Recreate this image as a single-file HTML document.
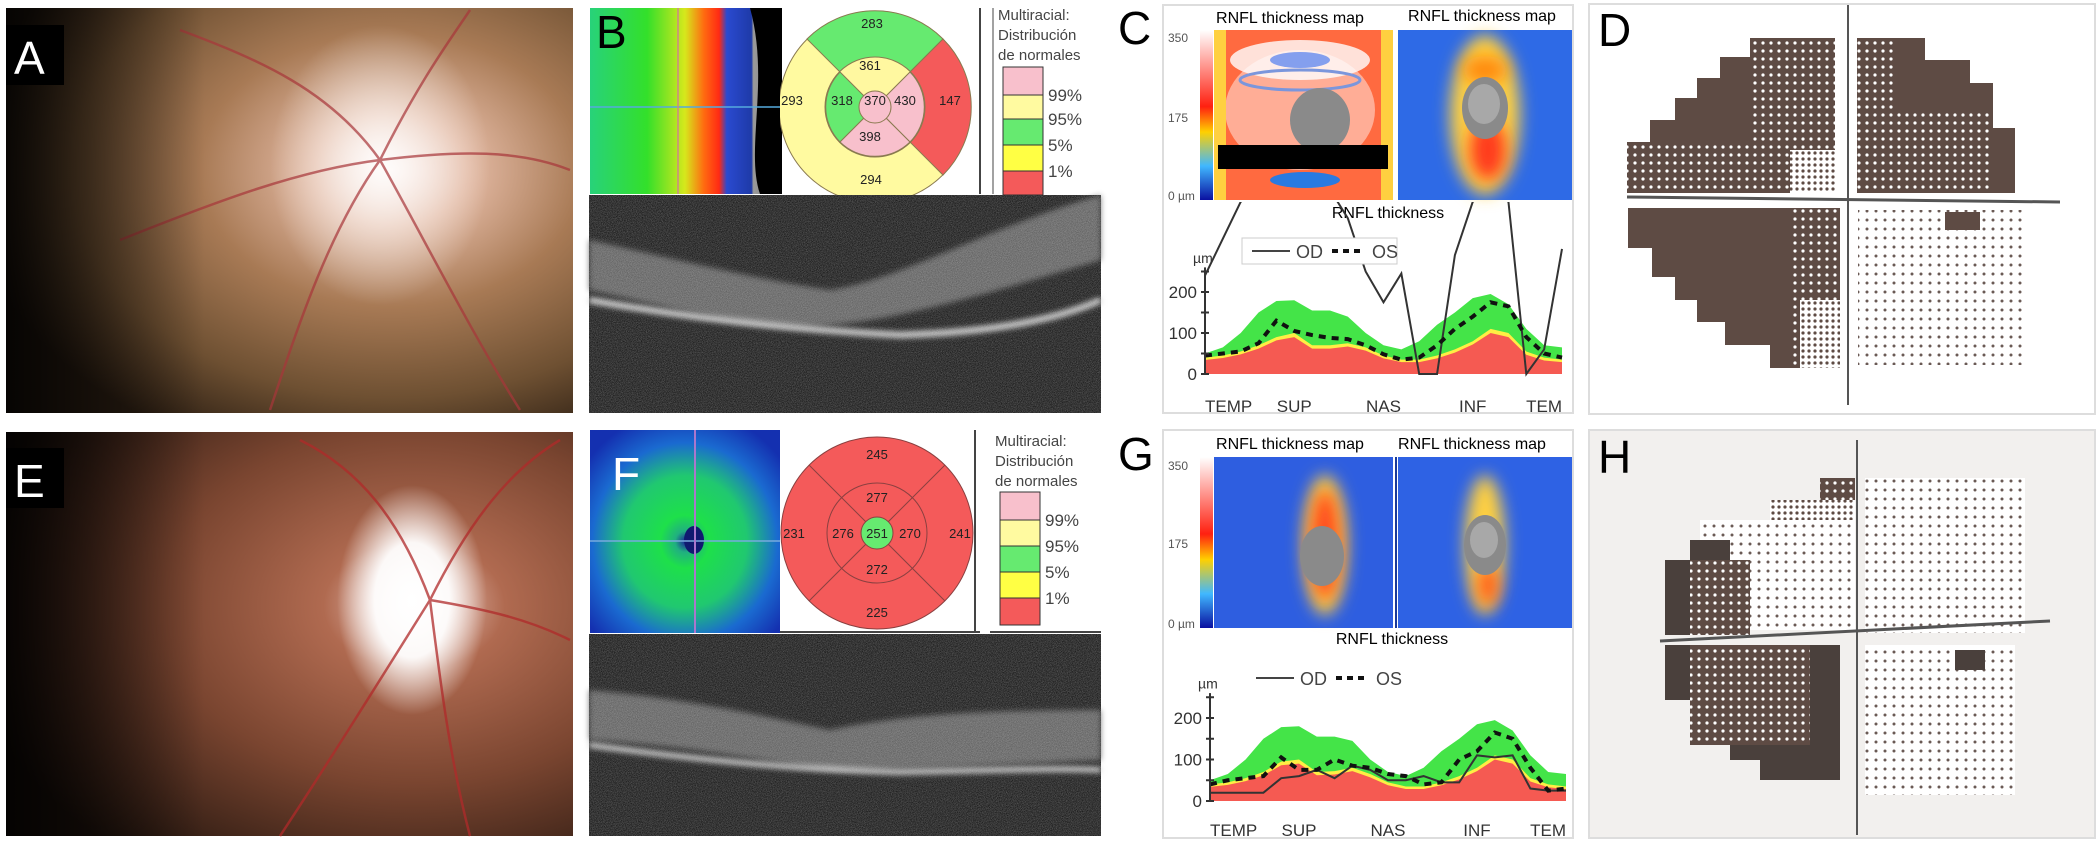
<!DOCTYPE html>
<html><head><meta charset="utf-8"><style>
html,body{margin:0;padding:0;background:#fff}
svg{display:block;font-family:"Liberation Sans",sans-serif}
</style></head><body>
<svg id="fig" width="2100" height="844" viewBox="0 0 2100 844" xmlns="http://www.w3.org/2000/svg">
<defs>
<filter id="noise" x="0" y="0" width="100%" height="100%"><feTurbulence type="fractalNoise" baseFrequency="1.2" numOctaves="2" seed="3"/><feColorMatrix values="0 0 0 0 1  0 0 0 0 1  0 0 0 0 1  0 0 0 0.45 -0.05"/></filter>
<filter id="blur3" x="-20%" y="-50%" width="140%" height="200%"><feGaussianBlur stdDeviation="3"/></filter>
<filter id="blur8" x="-100%" y="-100%" width="300%" height="300%"><feGaussianBlur stdDeviation="8"/></filter>
<filter id="blur20" x="-100%" y="-100%" width="300%" height="300%"><feGaussianBlur stdDeviation="20"/></filter>
<radialGradient id="fundA" cx="0.68" cy="0.4" r="0.75"><stop offset="0" stop-color="#f8e6e0"/><stop offset="0.18" stop-color="#e2b8a2"/><stop offset="0.45" stop-color="#a87a55"/><stop offset="0.75" stop-color="#6e5032"/><stop offset="1" stop-color="#2a1d12"/></radialGradient>
<radialGradient id="fundE" cx="0.72" cy="0.43" r="0.8"><stop offset="0" stop-color="#f0d0c8"/><stop offset="0.2" stop-color="#b06a50"/><stop offset="0.55" stop-color="#7a4530"/><stop offset="1" stop-color="#1d120c"/></radialGradient>
<linearGradient id="darkL" x1="0" x2="1"><stop offset="0" stop-color="#000" stop-opacity="0.85"/><stop offset="0.15" stop-color="#000" stop-opacity="0.5"/><stop offset="0.35" stop-color="#000" stop-opacity="0"/></linearGradient>
<radialGradient id="discA"><stop offset="0" stop-color="#fff" stop-opacity="0.9"/><stop offset="1" stop-color="#fff" stop-opacity="0"/></radialGradient>
<radialGradient id="discE"><stop offset="0" stop-color="#fff"/><stop offset="0.5" stop-color="#fff" stop-opacity="0.95"/><stop offset="1" stop-color="#fff" stop-opacity="0"/></radialGradient>
<linearGradient id="heatB" x1="0" x2="1"><stop offset="0" stop-color="#28d27a"/><stop offset="0.3" stop-color="#33e02a"/><stop offset="0.5" stop-color="#d6e81c"/><stop offset="0.6" stop-color="#ff6a10"/><stop offset="0.68" stop-color="#ff2a14"/><stop offset="0.72" stop-color="#2a4ad0"/><stop offset="0.85" stop-color="#1e3aa8"/><stop offset="0.86" stop-color="#9a9a9a"/><stop offset="1" stop-color="#7c7c7c"/></linearGradient>
<radialGradient id="heatF" cx="0.5" cy="0.55" r="0.65"><stop offset="0" stop-color="#1a2a9a"/><stop offset="0.08" stop-color="#20b080"/><stop offset="0.2" stop-color="#1ee04a"/><stop offset="0.5" stop-color="#20c870"/><stop offset="0.75" stop-color="#1a6ad0"/><stop offset="1" stop-color="#1430b0"/></radialGradient>
<linearGradient id="cbar" x1="0" y1="0" x2="0" y2="1"><stop offset="0" stop-color="#fff"/><stop offset="0.45" stop-color="#ff2010"/><stop offset="0.6" stop-color="#ffd000"/><stop offset="0.8" stop-color="#40b8ff"/><stop offset="1" stop-color="#0a10a0"/></linearGradient>
<pattern id="dotsDark" width="8" height="8" patternUnits="userSpaceOnUse"><rect width="8" height="8" fill="#5e4b44"/><circle cx="3" cy="3" r="1.6" fill="#fff"/></pattern>
<pattern id="dotsLight" width="6" height="6" patternUnits="userSpaceOnUse"><rect width="6" height="6" fill="#fff"/><circle cx="3" cy="3" r="1.6" fill="#5e4b44"/></pattern>
<pattern id="dotsSparse" width="9" height="9" patternUnits="userSpaceOnUse"><rect width="9" height="9" fill="#fff"/><circle cx="4" cy="4" r="1.5" fill="#6a5a55"/></pattern>
<clipPath id="clipC"><rect x="1165" y="202" width="410" height="210"/></clipPath>
<clipPath id="clipCirB"><rect x="780" y="0" width="200" height="195"/></clipPath>
</defs>

<g>
<rect x="6" y="8" width="567" height="405" fill="url(#fundA)"/>
<ellipse cx="380" cy="165" rx="110" ry="140" fill="url(#discA)"/>
<g stroke="#a8363a" stroke-width="2.5" fill="none" opacity="0.7">
<path d="M380 160 C330 90 260 60 180 30"/><path d="M380 160 C420 80 450 40 470 10"/><path d="M380 160 C330 230 300 320 270 410"/><path d="M380 160 C430 250 470 330 520 410"/><path d="M380 160 C460 150 520 150 570 170"/><path d="M380 160 C300 170 220 200 120 240"/>
</g>
<rect x="6" y="8" width="567" height="405" fill="url(#darkL)"/>
<rect x="6" y="25" width="58" height="60" fill="#000"/>
<text x="14" y="74" font-size="46" fill="#fff">A</text>
</g>

<g>
<rect x="6" y="432" width="567" height="404" fill="url(#fundE)"/>
<ellipse cx="412" cy="600" rx="75" ry="115" fill="url(#discE)"/>
<g stroke="#b02a2a" stroke-width="2.5" fill="none" opacity="0.75">
<path d="M430 600 C470 520 510 470 560 440"/><path d="M430 600 C400 520 360 470 300 440"/><path d="M430 600 C440 680 450 760 470 836"/><path d="M430 600 C380 680 330 760 280 836"/><path d="M430 600 C490 610 530 620 570 640"/>
</g>
<rect x="6" y="432" width="567" height="404" fill="url(#darkL)"/>
<rect x="6" y="448" width="58" height="60" fill="#000"/>
<text x="14" y="497" font-size="46" fill="#fff">E</text>
</g>

<g>
<rect x="590" y="8" width="190" height="186" fill="url(#heatB)"/>
<path d="M750 8 L782 8 L782 194 L760 194 C745 150 770 80 750 8Z" fill="#000"/>
<line x1="590" y1="107" x2="780" y2="107" stroke="#5ad" stroke-width="1.5"/>
<line x1="678" y1="8" x2="678" y2="194" stroke="#c88" stroke-width="1.5"/>
<text x="596" y="48" font-size="46" fill="#000">B</text>
<g clip-path="url(#clipCirB)" stroke="#8a7a50" stroke-width="1">
<circle cx="875" cy="107" r="96" fill="#fffaa0"/>
<path d="M875 107 L807 39 A96 96 0 0 1 943 39Z" fill="#66ea70"/>
<path d="M875 107 L943 39 A96 96 0 0 1 943 175Z" fill="#f45a5a"/>
<circle cx="875" cy="107" r="50" fill="#fff8a0"/>
<path d="M875 107 L840 72 A50 50 0 0 0 840 142Z" fill="#66ea70"/>
<path d="M875 107 L910 72 A50 50 0 0 1 910 142Z" fill="#f8c0cc"/>
<path d="M875 107 L840 142 A50 50 0 0 0 910 142Z" fill="#f8c0cc"/>
<circle cx="875" cy="107" r="16" fill="#f8c0cc"/>
</g>
<g font-size="13" fill="#222" text-anchor="middle">
<text x="872" y="28">283</text><text x="870" y="70">361</text><text x="792" y="105">293</text><text x="842" y="105">318</text><text x="875" y="105">370</text><text x="905" y="105">430</text><text x="950" y="105">147</text><text x="870" y="141">398</text><text x="871" y="184">294</text>
</g>
<line x1="980" y1="8" x2="980" y2="194" stroke="#444" stroke-width="2"/>
<line x1="993" y1="8" x2="993" y2="194" stroke="#444" stroke-width="1"/>
<g>
<text x="998" y="20" font-size="15" fill="#444">Multiracial:</text>
<text x="998" y="40" font-size="15" fill="#444">Distribución</text>
<text x="998" y="60" font-size="15" fill="#444">de normales</text>
<rect x="1003" y="67" width="40" height="28" fill="#f8c0cc" stroke="#333"/>
<rect x="1003" y="95" width="40" height="24" fill="#fffaa0" stroke="#333"/>
<rect x="1003" y="119" width="40" height="26" fill="#66ea70" stroke="#333"/>
<rect x="1003" y="145" width="40" height="26" fill="#ffff44" stroke="#333"/>
<rect x="1003" y="171" width="40" height="24" fill="#f45a5a" stroke="#333"/>
<g font-size="17" fill="#444"><text x="1048" y="101">99%</text><text x="1048" y="125">95%</text><text x="1048" y="151">5%</text><text x="1048" y="177">1%</text></g>
</g>
<g>
<rect x="589" y="195" width="512" height="218" fill="#0c0c0c"/>
<path d="M589 240 C680 260 760 280 830 290 C900 280 980 230 1101 195 L1101 260 C1000 290 900 320 830 325 C760 330 680 310 589 290Z" fill="#6a6a6a" opacity="0.8" filter="url(#blur3)"/>
<path d="M589 300 C700 320 800 330 900 335 C1000 332 1060 318 1101 300" stroke="#d0d0d0" stroke-width="6" fill="none" filter="url(#blur3)"/>
<rect x="589" y="195" width="512" height="218" filter="url(#noise)"/>
</g>
</g>

<g>
<rect x="590" y="430" width="190" height="203" fill="url(#heatF)"/>
<ellipse cx="694" cy="540" rx="10" ry="14" fill="#101a70"/>
<line x1="590" y1="541" x2="780" y2="541" stroke="#7ad" stroke-width="1.5"/>
<line x1="695" y1="430" x2="695" y2="633" stroke="#a7c" stroke-width="2"/>
<text x="612" y="490" font-size="46" fill="#fff">F</text>
<g stroke="#8a4040" stroke-width="1">
<circle cx="877" cy="533" r="96" fill="#f45a5a"/>
<line x1="809" y1="465" x2="945" y2="601"/><line x1="945" y1="465" x2="809" y2="601"/>
<circle cx="877" cy="533" r="50" fill="none"/>
<circle cx="877" cy="533" r="16" fill="#66ea70"/>
</g>
<g font-size="13" fill="#222" text-anchor="middle">
<text x="877" y="459">245</text><text x="877" y="502">277</text><text x="794" y="538">231</text><text x="843" y="538">276</text><text x="877" y="538">251</text><text x="910" y="538">270</text><text x="960" y="538">241</text><text x="877" y="574">272</text><text x="877" y="617">225</text>
</g>
<line x1="780" y1="632" x2="980" y2="632" stroke="#444" stroke-width="2"/>
<line x1="975" y1="430" x2="975" y2="632" stroke="#444" stroke-width="2"/>
<line x1="990" y1="632" x2="1101" y2="632" stroke="#444" stroke-width="2"/>
<g>
<text x="995" y="446" font-size="15" fill="#444">Multiracial:</text>
<text x="995" y="466" font-size="15" fill="#444">Distribución</text>
<text x="995" y="486" font-size="15" fill="#444">de normales</text>
<rect x="1000" y="492" width="40" height="28" fill="#f8c0cc" stroke="#333"/>
<rect x="1000" y="520" width="40" height="26" fill="#fffaa0" stroke="#333"/>
<rect x="1000" y="546" width="40" height="26" fill="#66ea70" stroke="#333"/>
<rect x="1000" y="572" width="40" height="26" fill="#ffff44" stroke="#333"/>
<rect x="1000" y="598" width="40" height="27" fill="#f45a5a" stroke="#333"/>
<g font-size="17" fill="#444"><text x="1045" y="526">99%</text><text x="1045" y="552">95%</text><text x="1045" y="578">5%</text><text x="1045" y="604">1%</text></g>
</g>
<g>
<rect x="589" y="634" width="512" height="202" fill="#0c0c0c"/>
<path d="M589 690 C700 700 780 720 830 730 C900 715 980 710 1101 710 L1101 760 C1000 765 900 770 830 770 C760 760 680 745 589 740Z" fill="#6a6a6a" opacity="0.8" filter="url(#blur3)"/>
<path d="M589 745 C700 760 800 770 900 772 C1000 770 1060 768 1101 770" stroke="#d0d0d0" stroke-width="5" fill="none" filter="url(#blur3)"/>
<rect x="589" y="634" width="512" height="202" filter="url(#noise)"/>
</g>
</g>

<g>
<rect x="1163" y="5" width="410" height="408" fill="#fff" stroke="#ddd" stroke-width="2"/>
<text x="1118" y="44" font-size="46" fill="#000">C</text>
<text x="1290" y="23" font-size="16" text-anchor="middle">RNFL thickness map</text>
<text x="1482" y="21" font-size="16" text-anchor="middle">RNFL thickness map</text>
<rect x="1200" y="30" width="13" height="170" fill="url(#cbar)"/>
<g font-size="12" fill="#555"><text x="1168" y="42">350</text><text x="1168" y="122">175</text><text x="1168" y="200">0 µm</text></g>
<rect x="1214" y="30" width="179" height="170" fill="#ff6a40"/>
<ellipse cx="1300" cy="60" rx="70" ry="20" fill="#fff" opacity="0.8"/>
<ellipse cx="1300" cy="60" rx="30" ry="8" fill="#2050e0"/>
<ellipse cx="1300" cy="80" rx="60" ry="10" fill="none" stroke="#1040c0" stroke-width="3"/>
<ellipse cx="1300" cy="110" rx="75" ry="60" fill="#fff" opacity="0.45"/>
<rect x="1214" y="30" width="12" height="170" fill="#ffd040"/>
<rect x="1381" y="30" width="12" height="170" fill="#ffd040"/>
<ellipse cx="1320" cy="120" rx="30" ry="32" fill="#8a8a8a"/>
<rect x="1218" y="145" width="170" height="24" fill="#000"/>
<ellipse cx="1305" cy="180" rx="35" ry="8" fill="#2a7ae0"/>
<rect x="1398" y="30" width="174" height="170" fill="#2e6ae6"/>
<ellipse cx="1485" cy="115" rx="35" ry="80" fill="#ffd040" filter="url(#blur8)"/>
<ellipse cx="1488" cy="150" rx="18" ry="30" fill="#ff3a1a" filter="url(#blur8)"/>
<ellipse cx="1485" cy="70" rx="22" ry="14" fill="#ff8a10" filter="url(#blur8)"/>
<ellipse cx="1485" cy="108" rx="23" ry="31" fill="#8a8a8a"/>
<ellipse cx="1484" cy="104" rx="16" ry="20" fill="#a8a8a8"/>
<text x="1388" y="218" font-size="16" text-anchor="middle">RNFL thickness</text>
<g id="chartC"></g>
</g>

<g>
<rect x="1163" y="430" width="410" height="408" fill="#fff" stroke="#ddd" stroke-width="2"/>
<text x="1118" y="470" font-size="46" fill="#000">G</text>
<text x="1290" y="449" font-size="16" text-anchor="middle">RNFL thickness map</text>
<text x="1472" y="449" font-size="16" text-anchor="middle">RNFL thickness map</text>
<rect x="1200" y="457" width="13" height="171" fill="url(#cbar)"/>
<g font-size="12" fill="#555"><text x="1168" y="470">350</text><text x="1168" y="548">175</text><text x="1168" y="628">0 µm</text></g>
<rect x="1214" y="457" width="179" height="171" fill="#2e5ee0"/>
<rect x="1398" y="457" width="174" height="171" fill="#2e62e4"/>
<ellipse cx="1325" cy="545" rx="22" ry="70" fill="#ffd040" filter="url(#blur8)"/>
<ellipse cx="1325" cy="545" rx="14" ry="55" fill="#ff4a1a" filter="url(#blur8)"/>
<ellipse cx="1485" cy="545" rx="20" ry="70" fill="#ffd040" filter="url(#blur8)"/>
<ellipse cx="1488" cy="585" rx="10" ry="20" fill="#ff5a1a" filter="url(#blur8)"/>
<ellipse cx="1322" cy="556" rx="22" ry="30" fill="#8a8a8a"/>
<ellipse cx="1485" cy="545" rx="21" ry="30" fill="#8a8a8a"/>
<ellipse cx="1484" cy="540" rx="14" ry="18" fill="#a8a8a8"/>
<line x1="1396" y1="457" x2="1396" y2="628" stroke="#1a3a9a" stroke-width="2"/>
<text x="1392" y="644" font-size="16" text-anchor="middle">RNFL thickness</text>
<g id="chartG"></g>
</g>

<g>
<rect x="1589" y="4" width="506" height="410" fill="#fff" stroke="#ddd" stroke-width="2"/>
<text x="1598" y="46" font-size="46" fill="#000">D</text>
<path d="M1627 193 L1627 142 L1650 142 L1650 120 L1675 120 L1675 98 L1697 98 L1697 78 L1720 78 L1720 57 L1767 57 L1767 38 L1835 38 L1835 193Z" fill="#5e4b44"/>
<rect x="1750" y="38" width="85" height="155" fill="url(#dotsDark)"/>
<rect x="1627" y="142" width="150" height="51" fill="url(#dotsDark)"/>
<rect x="1790" y="150" width="45" height="43" fill="url(#dotsLight)"/>
<path d="M1857 38 L1925 38 L1925 60 L1970 60 L1970 83 L1993 83 L1993 128 L2015 128 L2015 193 L1857 193Z" fill="#5e4b44"/>
<rect x="1857" y="38" width="40" height="155" fill="url(#dotsDark)"/>
<rect x="1880" y="110" width="110" height="83" fill="url(#dotsDark)"/>
<path d="M1628 208 L1628 248 L1652 248 L1652 277 L1675 277 L1675 300 L1697 300 L1697 322 L1725 322 L1725 345 L1770 345 L1770 368 L1840 368 L1840 208Z" fill="#5e4b44"/>
<rect x="1790" y="208" width="50" height="160" fill="url(#dotsDark)"/>
<rect x="1800" y="300" width="40" height="68" fill="url(#dotsLight)"/>
<rect x="1858" y="210" width="165" height="155" fill="url(#dotsSparse)"/>
<rect x="1945" y="212" width="35" height="18" fill="#5e4b44"/>
<line x1="1848" y1="5" x2="1848" y2="405" stroke="#555" stroke-width="2"/>
<line x1="1627" y1="197" x2="2060" y2="202" stroke="#555" stroke-width="3"/>
</g>

<g>
<rect x="1589" y="430" width="506" height="408" fill="#f2f0ee" stroke="#ddd" stroke-width="2"/>
<text x="1598" y="473" font-size="46" fill="#000">H</text>
<rect x="1820" y="478" width="35" height="25" fill="url(#dotsDark)"/>
<rect x="1770" y="500" width="85" height="45" fill="url(#dotsLight)"/>
<rect x="1700" y="520" width="155" height="110" fill="url(#dotsSparse)"/>
<path d="M1665 635 L1665 560 L1690 560 L1690 540 L1730 540 L1730 635Z" fill="#4a403c"/>
<rect x="1690" y="560" width="60" height="75" fill="url(#dotsDark)"/>
<rect x="1865" y="478" width="160" height="155" fill="url(#dotsSparse)"/>
<path d="M1665 645 L1840 645 L1840 780 L1760 780 L1760 760 L1730 760 L1730 740 L1710 740 L1710 700 L1665 700Z" fill="#4a403c"/>
<rect x="1690" y="645" width="120" height="100" fill="url(#dotsDark)"/>
<rect x="1865" y="645" width="150" height="150" fill="url(#dotsSparse)"/>
<rect x="1955" y="650" width="30" height="20" fill="#4a403c"/>
<line x1="1857" y1="440" x2="1857" y2="835" stroke="#555" stroke-width="2"/>
<line x1="1660" y1="641" x2="2050" y2="621" stroke="#555" stroke-width="3"/>
</g>
</svg>
<script>
const xLabels = ["TEMP","SUP","NAS","INF","TEM"];
const yTicks = [0,100,200];
const cGreen  = [50,65,100,150,178,180,155,155,140,100,70,60,80,120,150,185,195,170,110,70,65];
const cYellow = [40,45,55,70,90,100,70,70,75,65,45,35,35,45,60,80,110,100,55,40,35];
const cRed    = [34,39,48,62,82,90,62,62,67,57,38,29,29,38,52,72,100,90,47,33,29];
const cOS     = [45,50,55,75,130,105,95,88,85,70,48,35,40,70,110,140,175,165,90,50,40];
const cOD     = [240,330,420,450,450,450,450,450,380,250,175,245,0,0,290,420,450,420,0,60,305];
const gGreen  = [50,65,100,150,178,180,155,155,145,100,70,60,80,120,150,185,195,170,110,70,65];
const gYellow = [40,45,55,70,95,100,70,72,80,65,45,35,35,45,60,80,110,100,55,40,35];
const gRed    = [34,39,48,62,86,90,62,64,72,57,38,29,29,38,52,72,100,90,47,33,29];
const gOS     = [40,50,55,60,105,75,75,100,85,80,65,60,40,45,100,120,165,150,80,25,30];
const gOD     = [20,20,20,20,55,60,75,55,85,75,50,50,60,45,45,110,105,110,30,25,25];
const NS="http://www.w3.org/2000/svg";
function mk(parent,tag,attrs){const e=document.createElementNS(NS,tag);for(const k in attrs)e.setAttribute(k,attrs[k]);parent.appendChild(e);return e;}
function drawChart(id,cfg,green,yellow,red,os,od,clip){
  const g=document.getElementById(id);
  const n=green.length;
  const X=i=>cfg.x0+i/(n-1)*(cfg.x1-cfg.x0);
  const Y=v=>cfg.y0-v*cfg.k;
  function area(vals,color,name){
    let d="M"+X(0)+" "+Y(0);
    vals.forEach((v,i)=>d+=" L"+X(i)+" "+Y(v));
    d+=" L"+X(n-1)+" "+Y(0)+"Z";
    const p=mk(g,"path",{d:d,fill:color});
    
    
  }
  area(green,"#44e448","normal-band-95");
  area(yellow,"#ffee44","borderline-band-5");
  area(red,"#f55a52","abnormal-band-1");
  function line(vals,attrs,name){
    const d=vals.map((v,i)=>(i?"L":"M")+X(i)+" "+Y(v)).join(" ");
    const p=mk(g,"path",Object.assign({d:d,fill:"none"},attrs));
    
    
    return p;
  }
  const odp=line(od,{stroke:"#333","stroke-width":2},"od-line");
  if(clip)odp.setAttribute("clip-path","url(#"+clip+")");
  line(os,{stroke:"#111","stroke-width":4,"stroke-dasharray":"7 6"},"os-line");
  mk(g,"line",{x1:cfg.x0,y1:Y(0),x2:cfg.x0,y2:Y(260),stroke:"#333","stroke-width":2});
  for(let t=0;t<=250;t+=50){mk(g,"line",{x1:cfg.x0-4,y1:Y(t),x2:cfg.x0+4,y2:Y(t),stroke:"#333","stroke-width":2});}
  yTicks.forEach(t=>{const tx=mk(g,"text",{x:cfg.x0-8,y:Y(t)+6,"font-size":17,"text-anchor":"end",fill:"#333"});tx.textContent=t;
    
    });
  const um=mk(g,"text",{x:cfg.x0-12,y:Y(300)+12,"font-size":14,fill:"#333"});um.textContent="µm";
  xLabels.forEach((l,i)=>{const tx=mk(g,"text",{x:cfg.x0+i/(xLabels.length-1)*(cfg.x1-cfg.x0),y:cfg.ly,"font-size":17,"text-anchor":i==0?"start":(i==xLabels.length-1?"end":"middle"),fill:"#333"});tx.textContent=l;
    
    });
  const lg=mk(g,"g",{});
  
  
  if(cfg.box)mk(lg,"rect",{x:cfg.lx-10,y:cfg.lyy-13,width:155,height:26,fill:"#fff",stroke:"#ccc"});
  mk(lg,"line",{x1:cfg.lx,y1:cfg.lyy,x2:cfg.lx+38,y2:cfg.lyy,stroke:"#444","stroke-width":2});
  const t1=mk(lg,"text",{x:cfg.lx+44,y:cfg.lyy+7,"font-size":18,fill:"#444"});t1.textContent="OD";
  mk(lg,"line",{x1:cfg.lx+80,y1:cfg.lyy,x2:cfg.lx+112,y2:cfg.lyy,stroke:"#111","stroke-width":4,"stroke-dasharray":"6 5"});
  const t2=mk(lg,"text",{x:cfg.lx+120,y:cfg.lyy+7,"font-size":18,fill:"#444"});t2.textContent="OS";
}
drawChart("chartC",{x0:1205,x1:1562,y0:374,k:0.41,ly:412,lx:1252,lyy:251,box:true},cGreen,cYellow,cRed,cOS,cOD,"clipC");
drawChart("chartG",{x0:1210,x1:1566,y0:801,k:0.415,ly:836,lx:1256,lyy:678,box:false},gGreen,gYellow,gRed,gOS,gOD,null);
</script>
</body></html>
